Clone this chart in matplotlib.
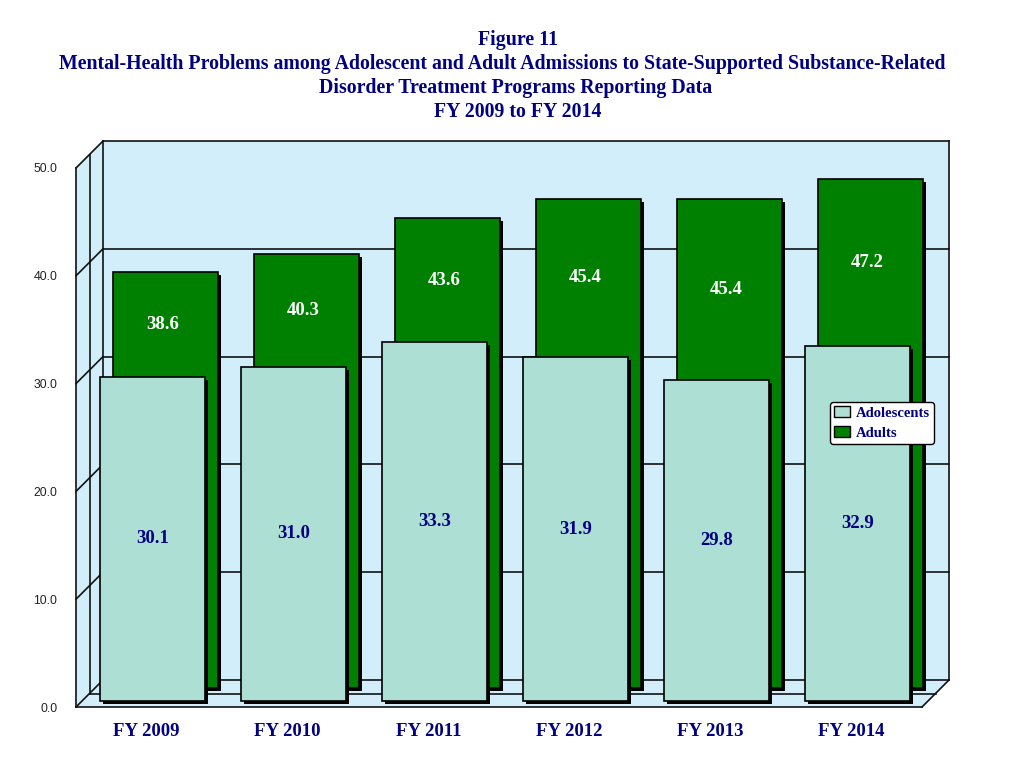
import numpy as np
import matplotlib
matplotlib.use('Agg')
import matplotlib.pyplot as plt
from matplotlib.transforms import ScaledTranslation, IdentityTransform
from matplotlib.patches import Polygon, Patch

# data
years = ['FY 2009', 'FY 2010', 'FY 2011', 'FY 2012', 'FY 2013', 'FY 2014']
adolescents = [30.1, 31.0, 33.3, 31.9, 29.8, 32.9]
adults = [38.6, 40.3, 43.6, 45.4, 45.4, 47.2]
yticks = [0, 10, 20, 30, 40, 50]

navy = '#000080'
wall = '#D3EEFB'
edge = '#111111'
serif = 'Liberation Serif'

fig = plt.figure(figsize=(10.24, 7.68), dpi=100)
# front plane of the 3d box
ax = fig.add_axes([76 / 1024, 1 - 707 / 768, 846 / 1024, 539 / 768])
ax.set_xlim(-0.5, 5.5)
ax.set_ylim(0, 50)
ax.set_autoscale_on(False)
ax.patch.set_visible(False)
for s in ax.spines.values():
    s.set_visible(False)

D = 27  # depth of the box in pixels


def shift(dx, dy):
    return ax.transData + ScaledTranslation(dx / fig.dpi, dy / fig.dpi, fig.dpi_scale_trans)


def pt(x, y, d):
    px, py = ax.transData.transform((x, y))
    return (px + d, py + d)


def seg(a, b):
    ax.plot([a[0], b[0]], [a[1], b[1]], color=edge, lw=1.2,
            transform=IdentityTransform(), clip_on=False, zorder=1)


x0, x1 = -0.5, 5.5
# walls and floor
for poly in ([pt(x0, 0, D), pt(x1, 0, D), pt(x1, 50, D), pt(x0, 50, D)],
             [pt(x0, 0, 0), pt(x0, 0, D), pt(x0, 50, D), pt(x0, 50, 0)],
             [pt(x0, 0, 0), pt(x1, 0, 0), pt(x1, 0, D), pt(x0, 0, D)]):
    ax.add_patch(Polygon(poly, closed=True, facecolor=wall, edgecolor='none',
                         transform=IdentityTransform(), clip_on=False, zorder=0))

# gridlines on back and left wall
for v in yticks:
    seg(pt(x0, v, D), pt(x1, v, D))
    seg(pt(x0, v, 0), pt(x0, v, D))
seg(pt(x0, 0, 0), pt(x0, 50, 0))
seg(pt(x0, 0, D / 2), pt(x0, 50, D / 2))
seg(pt(x0, 0, D), pt(x0, 50, D))
seg(pt(x1, 0, D), pt(x1, 50, D))
seg(pt(x0, 0, 0), pt(x1, 0, 0))
seg(pt(x0, 0, D / 2), pt(x1, 0, D / 2))
seg(pt(x1, 0, 0), pt(x1, 0, D))

x = np.arange(len(years))
w = 0.75

# back row: adults
ax.bar(x, adults, w, color='black', transform=shift(22, 16), zorder=3, clip_on=False)
ax.bar(x, adults, w, color='#008000', edgecolor='black', lw=1.2,
       transform=shift(19, 19), zorder=4, clip_on=False)
# front row: adolescents
ax.bar(x, adolescents, w, color='black', transform=shift(9, 3), zorder=5, clip_on=False)
ax.bar(x, adolescents, w, color='#ADDFD5', edgecolor='black', lw=1.2,
       transform=shift(6, 6), zorder=6, clip_on=False)

for i, (a, b) in enumerate(zip(adolescents, adults)):
    ax.text(i, a / 2, f'{a:.1f}', transform=shift(6, 6), ha='center', va='center',
            color=navy, family=serif, weight='bold', fontsize=13.5, zorder=7)
    ax.text(i, (a + b) / 2, f'{b:.1f}', transform=shift(16, 12.5), ha='center',
            va='center', color='white', family=serif, weight='bold', fontsize=13.5, zorder=7)

ax.set_yticks(yticks, [f'{v:.1f}' for v in yticks])
ax.set_xticks(x, years)
ax.tick_params(axis='y', length=0, pad=13.5, labelsize=8.8, labelcolor='#222222')
ax.tick_params(axis='x', length=0, pad=11.5)
for lbl in ax.get_yticklabels():
    lbl.set_family('Liberation Sans')
for lbl in ax.get_xticklabels():
    lbl.set_family(serif)
    lbl.set_weight('bold')
    lbl.set_fontsize(13.5)
    lbl.set_color(navy)

handles = [Patch(facecolor='#ADDFD5', edgecolor='black'),
           Patch(facecolor='#008000', edgecolor='black')]
leg = ax.legend(handles, ['Adolescents', 'Adults'], loc='center',
                bbox_to_anchor=(882 / 1024, 1 - 423 / 768), bbox_transform=fig.transFigure,
                prop=dict(family=serif, weight='bold', size=10.5), labelcolor=navy,
                frameon=True, fancybox=True, edgecolor='black', framealpha=1,
                handlelength=1.1, handleheight=0.75, handletextpad=0.4,
                borderpad=0.3, labelspacing=0.45, borderaxespad=0)
leg.set_zorder(10)
leg.get_frame().set_linewidth(1.0)

# title
title_lines = [('Figure 11', 518, 40),
               ('Mental-Health Problems among Adolescent and Adult Admissions to State-Supported Substance-Related', 502, 64),
               ('Disorder Treatment Programs Reporting Data', 516, 88),
               ('FY 2009 to FY 2014', 518, 112)]
for txt, tx, ty in title_lines:
    fig.text(tx / 1024, 1 - ty / 768, txt, ha='center', va='center', color=navy,
             family=serif, weight='bold', fontsize=14.3)

fig.savefig('out.png', dpi=100)
